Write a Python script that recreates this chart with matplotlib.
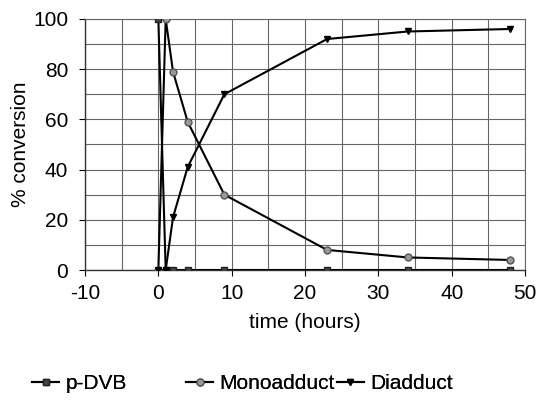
import numpy as np
import matplotlib
matplotlib.use("Agg")
import matplotlib.pyplot as plt
from matplotlib.ticker import MultipleLocator

plt.rcParams['font.family'] = ['Liberation Sans', 'DejaVu Sans']
plt.rcParams['axes.unicode_minus'] = False

# data
time_h = [0, 1, 2, 4, 9, 23, 34, 48]
p_dvb = [100, 0, 0, 0, 0, 0, 0, 0]
monoadduct = [0, 100, 79, 59, 30, 8, 5, 4]
diadduct = [0, 0, 21, 41, 70, 92, 95, 96]

fig = plt.figure(figsize=(5.36, 4.03), dpi=100)
ax = fig.add_axes([0.1586, 0.330, 0.821, 0.623])

l1, = ax.plot(time_h, p_dvb, '-s', color='black', lw=1.5, ms=4.8,
              mfc='#444444', mec='#222222', label='p-DVB', zorder=3)
l2, = ax.plot(time_h, monoadduct, '-o', color='black', lw=1.5, ms=5,
              mfc='#999999', mec='#555555', label='Monoadduct', zorder=3)
l3, = ax.plot(time_h, diadduct, '-v', color='black', lw=1.5, ms=5,
              mfc='black', mec='black', label='Diadduct', zorder=4)

ax.set_xlim(-10, 50)
ax.set_ylim(0, 100)
ax.xaxis.set_major_locator(MultipleLocator(10))
ax.xaxis.set_minor_locator(MultipleLocator(5))
ax.yaxis.set_major_locator(MultipleLocator(20))
ax.yaxis.set_minor_locator(MultipleLocator(10))
ax.grid(which='both', color='#666666', lw=0.8)
ax.set_axisbelow(True)
ax.tick_params(which='major', direction='out', length=4, width=0.8,
               labelsize=15, colors='black')
ax.tick_params(axis='x', which='major', pad=6)
ax.tick_params(axis='y', which='major', pad=8)
ax.tick_params(which='minor', length=0)

for side in ['top', 'right']:
    ax.spines[side].set_color('#666666')
    ax.spines[side].set_linewidth(0.8)
for side in ['left', 'bottom']:
    ax.spines[side].set_color('#333333')
    ax.spines[side].set_linewidth(1.0)

ax.set_xlabel('time (hours)', fontsize=15, labelpad=7)
ax.set_ylabel('% conversion', fontsize=15)
ax.yaxis.set_label_coords(-0.125, 0.5)

# legend entries sit at uneven spacing in the reference, so place them one by one
for handle, x0 in zip([l1, l2, l3], [0.06, 0.347, 0.628]):
    leg = fig.legend(handles=[handle], loc='center left', bbox_to_anchor=(x0, 0.048),
                     frameon=False, fontsize=15, handlelength=1.3,
                     handletextpad=0.3, borderpad=0, borderaxespad=0)
    fig.add_artist(leg)

fig.savefig('out.png', dpi=100)
